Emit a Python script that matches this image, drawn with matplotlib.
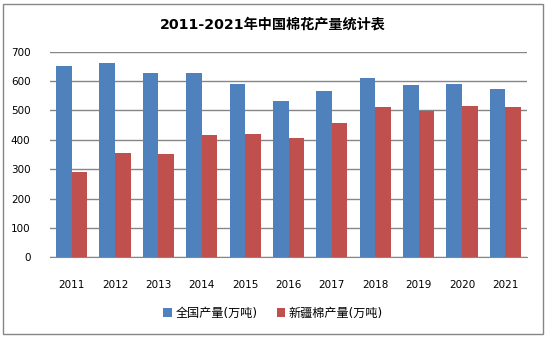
import numpy as np
import matplotlib
matplotlib.use('Agg')
import matplotlib.pyplot as plt
from matplotlib.patches import Rectangle

plt.rcParams['font.family'] = ['DejaVu Sans', 'Noto Sans CJK SC']

years = ['2011', '2012', '2013', '2014', '2015', '2016', '2017', '2018', '2019', '2020', '2021']
quanguo = [651, 661, 627, 627, 590, 532, 566, 610, 587, 590, 573]
xinjiang = [290, 355, 352, 416, 420, 406, 457, 512, 499, 515, 512]

fig = plt.figure(figsize=(5.46, 3.37), dpi=100)
ax = fig.add_axes([50 / 546, 1 - 257.3 / 337, 477 / 546, 205.6 / 337])

x = np.arange(len(years))
w = 0.36
ax.bar(x - w / 2, quanguo, w, color='#4F81BD', label='全国产量(万吨)', zorder=3)
ax.bar(x + w / 2, xinjiang, w, color='#C0504D', label='新疆棉产量(万吨)', zorder=3)

ax.set_xlim(-0.5, len(years) - 0.5)
ax.set_ylim(0, 700)
ax.set_yticks(range(0, 701, 100))
ax.set_xticks(x)
ax.set_xticklabels(years)
ax.grid(axis='y', color='#868686', linewidth=1, zorder=0)
for s in ['top', 'right', 'left']:
    ax.spines[s].set_visible(False)
ax.spines['bottom'].set_color('#868686')
ax.tick_params(axis='both', length=0, labelsize=7.5, colors='black')
ax.tick_params(axis='x', pad=16)
ax.tick_params(axis='y', pad=14)

fig.text(0.5, 1 - 25 / 337, '2011-2021年中国棉花产量统计表', ha='center', va='center',
         fontsize=10.2, fontweight='bold', family=['DejaVu Sans', 'Noto Sans CJK SC'])

fig.legend(loc='center', bbox_to_anchor=(0.5, 1 - 313 / 337), ncol=2, frameon=False,
           fontsize=8.7, handlelength=0.7, handleheight=0.7, columnspacing=1.6, handletextpad=0.3)

fig.patches.append(Rectangle((3 / 546, 3 / 337), 540 / 546, 330 / 337, transform=fig.transFigure,
                             fill=False, edgecolor='#868686', linewidth=1))

fig.savefig('out.png', dpi=100)
